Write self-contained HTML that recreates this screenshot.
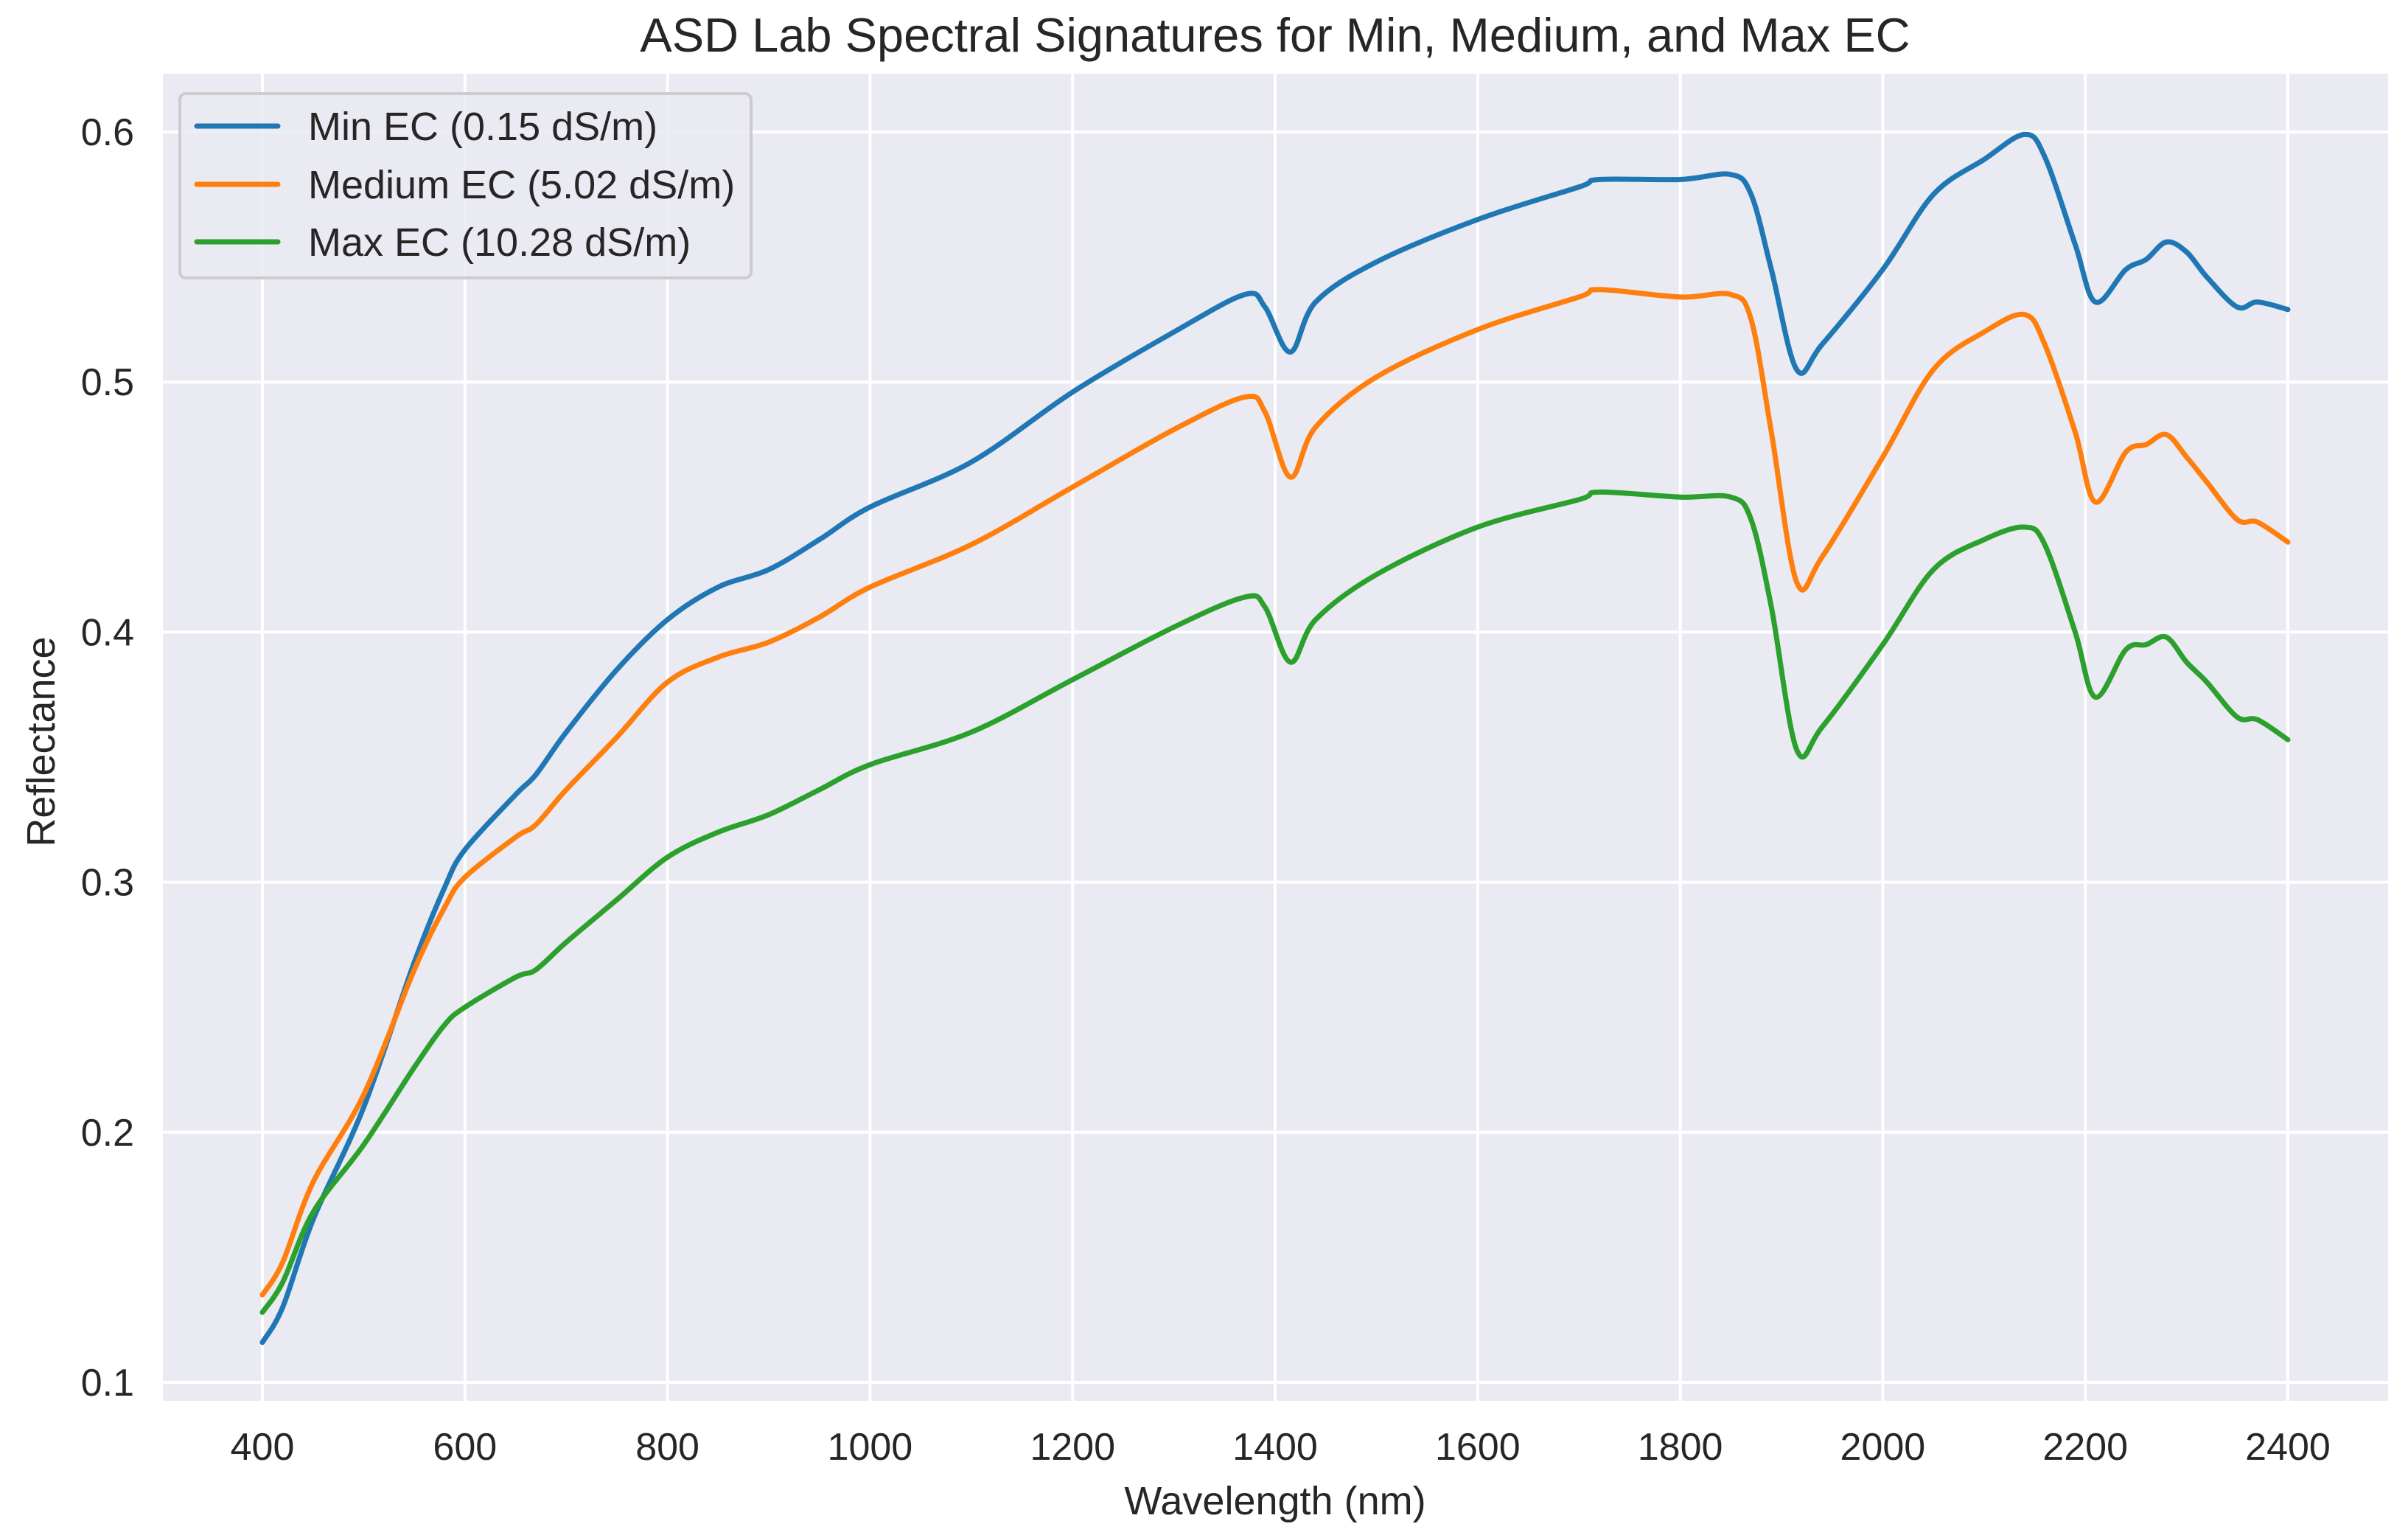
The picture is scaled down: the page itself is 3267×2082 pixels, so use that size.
<!DOCTYPE html>
<html><head><meta charset="utf-8"><style>
html,body{margin:0;padding:0;background:#fff;}
svg{display:block;font-family:"Liberation Sans",sans-serif;}
</style></head><body>
<svg id="chart" width="3267" height="2082" viewBox="0 0 3267 2082">
<rect x="221" y="100" width="3019" height="1800" fill="#eaeaf2"/>
<g id="grid"></g>
<g id="lines"></g>
<g id="ticks"></g>
<text x="1730" y="70" font-size="65" text-anchor="middle" fill="#262626">ASD Lab Spectral Signatures for Min, Medium, and Max EC</text>
<text x="1730" y="2054" font-size="54" text-anchor="middle" fill="#262626">Wavelength (nm)</text>
<text x="0" y="0" font-size="54" text-anchor="middle" fill="#262626" transform="translate(74,1006) rotate(-90)">Reflectance</text>
<g>
<rect x="244" y="127" width="775" height="250" rx="8" fill="#eaeaf2" fill-opacity="0.85" stroke="#cccccc" stroke-width="4"/>
<line x1="267" y1="171" x2="377" y2="171" stroke="#1f77b4" stroke-width="7" stroke-linecap="round"/>
<text x="418" y="190" font-size="54" fill="#262626">Min EC (0.15 dS/m)</text>
<line x1="267" y1="250" x2="377" y2="250" stroke="#ff7f0e" stroke-width="7" stroke-linecap="round"/>
<text x="418" y="269" font-size="54" fill="#262626">Medium EC (5.02 dS/m)</text>
<line x1="267" y1="328" x2="377" y2="328" stroke="#2ca02c" stroke-width="7" stroke-linecap="round"/>
<text x="418" y="347" font-size="54" fill="#262626">Max EC (10.28 dS/m)</text>
</g>
</svg>
<script>
const wavelengths=[400,420,450,500,550,580,600,650,670,700,750,800,850,900,950,1000,1100,1200,1300,1370,1390,1415,1440,1500,1600,1700,1720,1800,1850,1870,1890,1915,1940,2000,2050,2100,2140,2160,2190,2210,2240,2260,2280,2300,2320,2350,2370,2400];
const minEC=[0.116,0.13,0.165,0.21,0.268,0.298,0.313,0.335,0.343,0.36,0.385,0.405,0.418,0.425,0.437,0.45,0.468,0.496,0.52,0.535,0.530,0.512,0.532,0.548,0.565,0.578,0.581,0.581,0.583,0.575,0.545,0.505,0.515,0.545,0.575,0.589,0.599,0.59,0.555,0.532,0.545,0.549,0.556,0.552,0.542,0.530,0.532,0.529];
const mediumEC=[0.135,0.148,0.18,0.215,0.265,0.29,0.302,0.318,0.323,0.337,0.358,0.38,0.39,0.396,0.406,0.418,0.435,0.458,0.481,0.494,0.488,0.462,0.482,0.502,0.521,0.534,0.537,0.534,0.535,0.525,0.48,0.42,0.43,0.47,0.505,0.52,0.527,0.515,0.48,0.452,0.472,0.475,0.479,0.47,0.46,0.445,0.444,0.436];
const maxEC=[0.128,0.14,0.168,0.195,0.226,0.243,0.25,0.262,0.265,0.276,0.293,0.31,0.32,0.327,0.337,0.347,0.36,0.381,0.402,0.414,0.41,0.388,0.405,0.423,0.442,0.453,0.456,0.454,0.454,0.445,0.41,0.353,0.362,0.395,0.425,0.437,0.442,0.435,0.4,0.374,0.393,0.395,0.398,0.388,0.38,0.366,0.365,0.357];
const xTicks=[400,600,800,1000,1200,1400,1600,1800,2000,2200,2400];
const yTicks=[0.1,0.2,0.3,0.4,0.5,0.6];
const NS="http://www.w3.org/2000/svg";
function xs(v){return 356+(v-400)*1.374;}
function ys(v){return 179+(0.6-v)*3392;}
const grid=document.getElementById('grid'),tk=document.getElementById('ticks'),lg=document.getElementById('lines');
xTicks.forEach(t=>{
 const l=document.createElementNS(NS,'line');
 l.setAttribute('x1',xs(t));l.setAttribute('x2',xs(t));l.setAttribute('y1',100);l.setAttribute('y2',1900);
 l.setAttribute('stroke','#fff');l.setAttribute('stroke-width','4');
 
 
 grid.appendChild(l);
 const s=document.createElementNS(NS,'text');
 s.setAttribute('x',xs(t));s.setAttribute('y',1980);s.setAttribute('font-size','52');s.setAttribute('text-anchor','middle');s.setAttribute('fill','#262626');
 s.textContent=t;
 
 
 tk.appendChild(s);
});
yTicks.forEach(t=>{
 const l=document.createElementNS(NS,'line');
 l.setAttribute('x1',221);l.setAttribute('x2',3240);l.setAttribute('y1',ys(t));l.setAttribute('y2',ys(t));
 l.setAttribute('stroke','#fff');l.setAttribute('stroke-width','4');
 
 
 grid.appendChild(l);
 const s=document.createElementNS(NS,'text');
 s.setAttribute('x',182);s.setAttribute('y',ys(t)+18);s.setAttribute('font-size','52');s.setAttribute('text-anchor','end');s.setAttribute('fill','#262626');
 s.textContent=t.toFixed(1);
 
 
 tk.appendChild(s);
});
function path(vals){
 const p=wavelengths.map((w,i)=>[xs(w),ys(vals[i])]);
 let d='M'+p[0][0]+','+p[0][1];
 for(let i=0;i<p.length-1;i++){
  const p0=p[i-1]||p[i],p1=p[i],p2=p[i+1],p3=p[i+2]||p2;
  const c1=[p1[0]+(p2[0]-p0[0])/6,p1[1]+(p2[1]-p0[1])/6];
  const c2=[p2[0]-(p3[0]-p1[0])/6,p2[1]-(p3[1]-p1[1])/6];
  d+=' C'+c1+' '+c2+' '+p2;
 }
 return d;
}
[[minEC,'#1f77b4','line-min-ec'],[mediumEC,'#ff7f0e','line-medium-ec'],[maxEC,'#2ca02c','line-max-ec']].forEach(([v,c,n])=>{
 const e=document.createElementNS(NS,'path');
 e.setAttribute('d',path(v));e.setAttribute('fill','none');e.setAttribute('stroke',c);e.setAttribute('stroke-width','7');
 e.setAttribute('stroke-linejoin','round');e.setAttribute('stroke-linecap','round');
 
 
 lg.appendChild(e);
});
</script>
</body></html>
